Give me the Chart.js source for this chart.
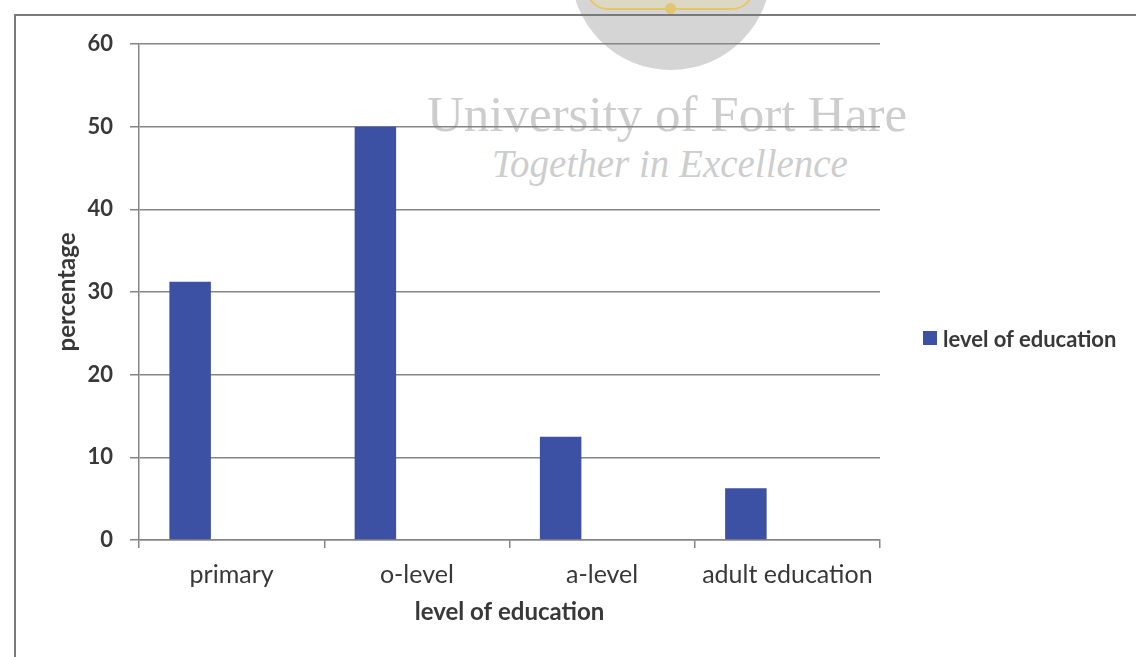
<!DOCTYPE html>
<html>
<head>
<meta charset="utf-8">
<script src="https://cdn.jsdelivr.net/npm/chart.js@4.4.1/dist/chart.umd.min.js"></script>
<style>
    html, body { margin: 0; padding: 0; background: #fff; }
    #page { position: relative; width: 1136px; height: 657px; overflow: hidden; }
    #frame {
        position: absolute; left: 14px; top: 14px; width: 1140px; height: 660px;
        border-left: 2px solid #7a7a7a; border-top: 2px solid #7a7a7a;
    }
    #logo {
        position: absolute; left: 571px; top: -130px; width: 200px; height: 200px;
        border-radius: 50%; background: #d5d5d5;
    }
    #crest {
        position: absolute; left: 586px; top: -22px; width: 164px; height: 28px;
        border: 2px solid #e6c765; border-radius: 0 0 22px 22px; background: #dcd8c4;
    }
    #crestDot {
        position: absolute; left: 665px; top: 3px; width: 11px; height: 11px;
        border-radius: 50%; background: #e3c472;
    }
    .mark { position: absolute; color: #cdcdcd; white-space: nowrap; line-height: 1; font-family: "Liberation Serif", serif; }
    #mark1 { left: 427px; top: 89px; font-size: 51px; }
    #mark2 { left: 492px; top: 144px; font-size: 39px; font-style: italic; }
    #chartBox { position: absolute; left: 0; top: 0; width: 1136px; height: 657px; }
    #legend {
        position: absolute; left: 923px; top: 326px; height: 24px; display: flex; align-items: center;
        font-family: Lato, sans-serif; font-weight: bold; font-size: 22px; color: #383838; white-space: nowrap;
    }
    #legend .box { width: 14px; height: 14px; background: #3c51a3; margin-right: 6px; }
</style>
</head>
<body>
<div id="page">
    <div id="logo"></div>
    <div id="crest"></div>
    <div id="crestDot"></div>
    <div id="frame"></div>
    <div class="mark" id="mark1">University of Fort Hare</div>
    <div class="mark" id="mark2">Together in Excellence</div>
    <div id="chartBox"><canvas id="chart" width="1136" height="657"></canvas></div>
    <div id="legend"><div class="box"></div><span>level of education</span></div>
</div>
<script>
// Education level of respondents (percent)
const categories = ['primary', 'o-level', 'a-level', 'adult education'];
const seriesName = 'level of education';
const percentages = [31.25, 50, 12.5, 6.25];
const yTicks = [0, 10, 20, 30, 40, 50, 60];

const gridColor = '#858585';
const textColor = '#383838';

// Excel left the bars in the first slot of a three-slot group, so pad with empty series
const emptySlot = categories.map(() => null);

const ctx = document.getElementById('chart').getContext('2d');
const chart = new Chart(ctx, {
    type: 'bar',
    data: {
        labels: categories,
        datasets: [
            { label: seriesName, data: percentages, backgroundColor: '#3c51a3' },
            { label: '', data: emptySlot },
            { label: '', data: emptySlot }
        ]
    },
    options: {
        responsive: false,
        animation: false,
        devicePixelRatio: 1,
        layout: { padding: { left: 53, right: 256, top: 44, bottom: 30 } },
        datasets: { bar: { categoryPercentage: 0.672, barPercentage: 1.0 } },
        plugins: {
            legend: { display: false },
            tooltip: { enabled: false }
        },
        scales: {
            x: {
                afterFit: (scale) => { scale.height = 87; },
                border: { color: gridColor, width: 1.5 },
                grid: { drawOnChartArea: false, color: gridColor, lineWidth: 1.5, tickLength: 8, offset: true },
                ticks: { color: textColor, padding: 12, font: { family: 'Lato', size: 25 } },
                title: {
                    display: true, text: 'level of education', color: textColor,
                    font: { family: 'Lato', size: 24, weight: 'bold' }, padding: 0
                }
            },
            y: {
                min: 0, max: 60,
                afterBuildTicks: (scale) => { scale.ticks = yTicks.map(v => ({ value: v })); },
                afterFit: (scale) => { scale.width = 86; },
                border: { color: gridColor, width: 1.5 },
                grid: { color: gridColor, lineWidth: 1.5, tickLength: 9 },
                ticks: { color: textColor, padding: 17, font: { family: 'Lato', size: 22, weight: 'bold' } },
                title: {
                    display: true, text: 'percentage', color: textColor,
                    font: { family: 'Lato', size: 24, weight: 'bold' }, padding: 0
                }
            }
        }
    }
});
</script>
</body>
</html>
